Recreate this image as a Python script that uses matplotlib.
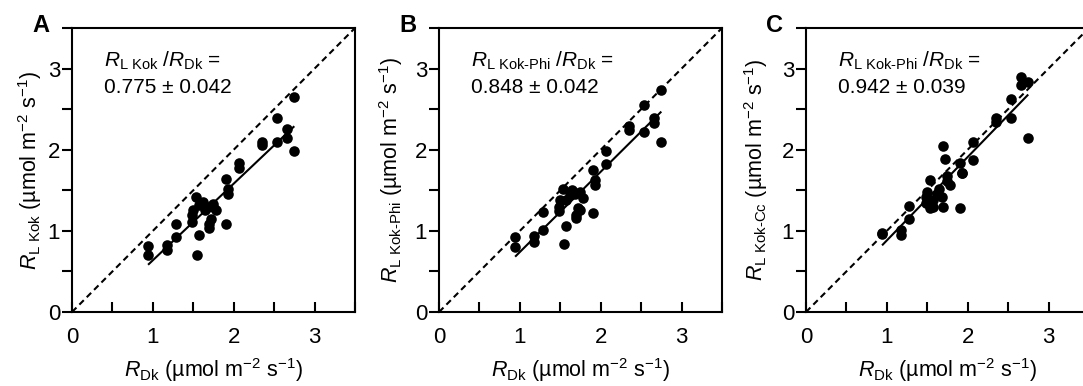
import numpy as np
import matplotlib
matplotlib.use('Agg')
import matplotlib.pyplot as plt
from matplotlib.ticker import MultipleLocator

plt.rcParams['font.family'] = ['Liberation Sans', 'DejaVu Sans']
plt.rcParams['mathtext.fontset'] = 'custom'
plt.rcParams['mathtext.rm'] = 'Liberation Sans'
plt.rcParams['mathtext.it'] = 'Liberation Sans:italic'
plt.rcParams['mathtext.bf'] = 'Liberation Sans:bold'

# R_Dk (shared x values)
r_dk = [0.94, 0.94, 1.17, 1.17, 1.28, 1.28, 1.54, 1.57, 1.90, 1.90, 1.93, 1.93,
        2.07, 2.07, 2.35, 2.35, 2.54, 2.54, 2.66, 2.66, 2.74, 2.74,
        1.48, 1.48, 1.50, 1.53, 1.57, 1.62, 1.64, 1.68, 1.70, 1.70, 1.72, 1.74,
        1.78, 1.74]
# R_L Kok
r_kok = [0.81, 0.70, 0.83, 0.76, 1.09, 0.93, 0.70, 0.95, 1.08, 1.64, 1.46, 1.51,
         1.84, 1.78, 2.09, 2.06, 2.39, 2.10, 2.26, 2.15, 2.65, 1.98,
         1.11, 1.20, 1.26, 1.42, 1.32, 1.36, 1.26, 1.30, 1.09, 1.03, 1.14, 1.33,
         1.26, 1.30]
# R_L Kok-Phi
r_phi = [0.93, 0.80, 0.94, 0.86, 1.23, 1.01, 0.84, 1.06, 1.22, 1.75, 1.57, 1.63,
         1.98, 1.83, 2.29, 2.24, 2.55, 2.22, 2.39, 2.33, 2.73, 2.09,
         1.24, 1.30, 1.38, 1.52, 1.38, 1.44, 1.50, 1.46, 1.16, 1.20, 1.28, 1.48,
         1.40, 1.26]
# R_L Kok-Cc
r_cc = [0.97, 0.96, 1.01, 0.95, 1.31, 1.15, 1.28, 1.30, 1.28, 1.84, 1.71, 1.71,
        2.10, 1.87, 2.39, 2.34, 2.62, 2.39, 2.80, 2.90, 2.84, 2.14,
        1.34, 1.42, 1.48, 1.63, 1.38, 1.46, 1.52, 1.42, 1.30, 2.04, 1.88, 1.61,
        1.57, 1.67]

# fitted lines (slope, intercept)
fit_slope = [0.944, 0.989, 1.028]
fit_icpt = [-0.306, -0.249, -0.146]
fit_range = [0.95, 2.74]

ylabels = [r'$R_{\mathrm{L\ Kok}}$ (µmol m$^{-2}$ s$^{-1}$)',
           r'$R_{\mathrm{L\ Kok\text{-}Phi}}$ (µmol m$^{-2}$ s$^{-1}$)',
           r'$R_{\mathrm{L\ Kok\text{-}Cc}}$ (µmol m$^{-2}$ s$^{-1}$)']
ratio_txt = [r'$R_{\mathrm{L\ Kok}}$ /$R_{\mathrm{Dk}}$ =',
             r'$R_{\mathrm{L\ Kok\text{-}Phi}}$ /$R_{\mathrm{Dk}}$ =',
             r'$R_{\mathrm{L\ Kok\text{-}Phi}}$ /$R_{\mathrm{Dk}}$ =']
ratio_val = ['0.775 ± 0.042', '0.848 ± 0.042', '0.942 ± 0.039']
letters = ['A', 'B', 'C']
ys = [r_kok, r_phi, r_cc]

fig = plt.figure(figsize=(10.83, 3.86), dpi=100)
lefts = [0.0665, 0.4054, 0.7442]
ylab_x = [-0.10, -0.12, -0.127]

for i in range(3):
    ax = fig.add_axes([lefts[i], 0.1917, 0.2613, 0.7358])
    ax.plot([0, 3.5], [0, 3.5], color='black', lw=1.5, ls=(0, (3, 2)))
    xf = np.array(fit_range)
    ax.plot(xf, fit_slope[i] * xf + fit_icpt[i], color='black', lw=1.5)
    ax.scatter(r_dk, ys[i], s=58, color='black', zorder=3, linewidths=0)
    ax.set_xlim(0, 3.5)
    ax.set_ylim(0, 3.5)
    ax.xaxis.set_major_locator(MultipleLocator(1))
    ax.xaxis.set_minor_locator(MultipleLocator(0.5))
    ax.yaxis.set_major_locator(MultipleLocator(1))
    ax.yaxis.set_minor_locator(MultipleLocator(0.5))
    ax.tick_params(axis='x', which='both', direction='in', length=7, width=1.5,
                   labelsize=16, pad=11)
    ax.tick_params(axis='y', which='both', direction='out', length=7, width=1.5,
                   labelsize=16, pad=1.5)
    for sp in ax.spines.values():
        sp.set_linewidth(1.5)
    ax.set_xlabel(r'$R_{\mathrm{Dk}}$ (µmol m$^{-2}$ s$^{-1}$)', fontsize=15.5)
    ax.xaxis.set_label_coords(0.5, -0.155)
    ax.set_ylabel(ylabels[i], fontsize=15.5)
    ax.yaxis.set_label_coords(ylab_x[i], 0.5)
    ax.text(0.113, 0.884, ratio_txt[i], transform=ax.transAxes, fontsize=15,
            va='center', ha='left')
    ax.text(0.113, 0.79, ratio_val[i], transform=ax.transAxes, fontsize=15,
            va='center', ha='left')
    ax.text(-0.11, 1.01, letters[i], transform=ax.transAxes, fontsize=17,
            fontweight='bold', va='center', ha='center')

fig.savefig('out.png', dpi=100)
